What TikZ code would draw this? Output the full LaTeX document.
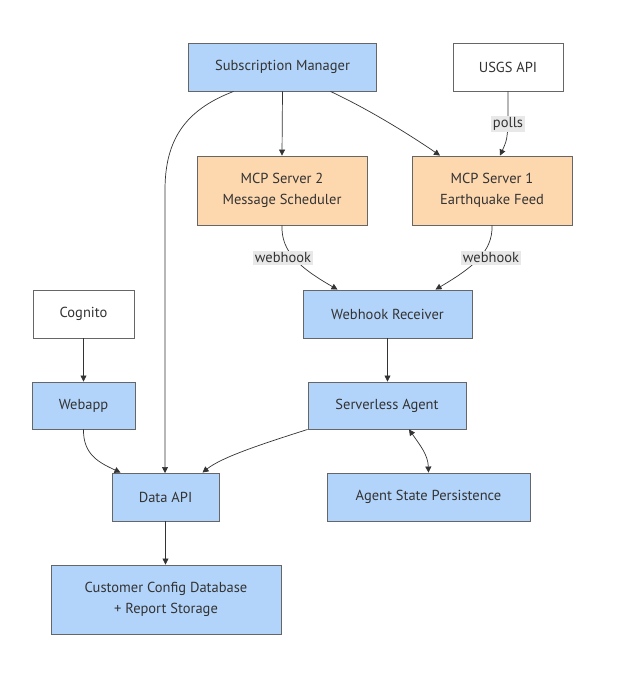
\documentclass[tikz,border=0pt]{standalone}
\usepackage{fontspec}
\setmainfont{PT Sans}
\usetikzlibrary{arrows.meta,calc}
\definecolor{bluefill}{HTML}{B3D4FA}
\definecolor{orangefill}{HTML}{FDD7AE}
\definecolor{edgecol}{HTML}{666666}
\definecolor{txtcol}{HTML}{333333}
\definecolor{lblbg}{HTML}{E8E8E8}
\tikzset{
  box/.style={draw=edgecol, line width=0.9pt, text=txtcol, align=center, font=\fontsize{14.5}{20.5}\selectfont, inner sep=0pt},
  bluebox/.style={box, fill=bluefill},
  orangebox/.style={box, fill=orangefill},
  whitebox/.style={box, fill=white},
  arr/.style={draw=txtcol, line width=0.7pt, -{Triangle[length=6pt,width=6pt]}},
  darr/.style={draw=txtcol, line width=0.7pt, {Triangle[length=6pt,width=6pt]}-{Triangle[length=6pt,width=6pt]}},
  lbl/.style={fill=lblbg, text=txtcol, font=\fontsize{14.5}{16}\selectfont, inner sep=1.8pt}
}
\begin{document}
\begin{tikzpicture}[x=1pt,y=-1pt]
\useasboundingbox[fill=white] (0,0) rectangle (624,680);
\node[bluebox, minimum width=188pt, minimum height=48pt] (sm) at (282.5,67) {Subscription Manager};
\node[whitebox, minimum width=110pt, minimum height=48pt] (usgs) at (508,67) {USGS API};
\node[orangebox, minimum width=170pt, minimum height=69pt] (mcp2) at (282,190.5) {MCP Server 2\\Message Scheduler};
\node[orangebox, minimum width=160pt, minimum height=69pt] (mcp1) at (492,190.5) {MCP Server 1\\Earthquake Feed};
\node[bluebox, minimum width=169pt, minimum height=48pt] (wr) at (387.5,314) {Webhook Receiver};
\node[whitebox, minimum width=101pt, minimum height=48pt] (cog) at (83.5,314) {Cognito};
\node[bluebox, minimum width=103pt, minimum height=47pt] (web) at (83.5,405.5) {Webapp};
\node[bluebox, minimum width=158pt, minimum height=47pt] (sa) at (387,405.5) {Serverless Agent};
\node[bluebox, minimum width=107pt, minimum height=48pt] (dapi) at (165.5,497) {Data API};
\node[bluebox, minimum width=203pt, minimum height=48pt] (asp) at (428.5,497) {Agent State Persistence};
\node[bluebox, minimum width=230pt, minimum height=69pt] (db) at (166,599.5) {Customer Config Database\\+ Report Storage};

% edges
\draw[arr] (sm.south) -- (mcp2.north);
\draw[arr] ([xshift=48pt]sm.south) .. controls (370,110) and (410,135) .. ([xshift=-52pt]mcp1.north);
\draw[arr] ([xshift=-49pt]sm.south) .. controls (185,110) and (165,140) .. (165,190) -- (165,473);
\draw[arr] (usgs.south) .. controls (508,138) .. ([xshift=8pt]mcp1.north);
\node[lbl] (lpolls) at (508,124) {polls};
\draw[arr] (mcp2.south) .. controls (281,252) and (300,268) .. ([xshift=-50pt]wr.north);
\node[lbl] (lwh2) at (283,258) {webhook};
\draw[arr] (mcp1.south) .. controls (493,252) and (472,268) .. ([xshift=48pt]wr.north);
\node[lbl] (lwh1) at (491,258) {webhook};
\draw[arr] (wr.south) -- (sa.north -| wr.south);
\draw[arr] (cog.south) -- (web.north);
\draw[arr] (web.south) .. controls (83,455) and (100,463) .. ([xshift=-45pt]dapi.north);
\draw[arr] (sa.south west) .. controls (262,444) and (222,457) .. ([xshift=37pt]dapi.north);
\draw[darr] ([xshift=22pt]sa.south) .. controls (420,445) and (428,455) .. (asp.north);
\draw[arr] (dapi.south) -- (db.north -| dapi.south);
\end{tikzpicture}
\end{document}
